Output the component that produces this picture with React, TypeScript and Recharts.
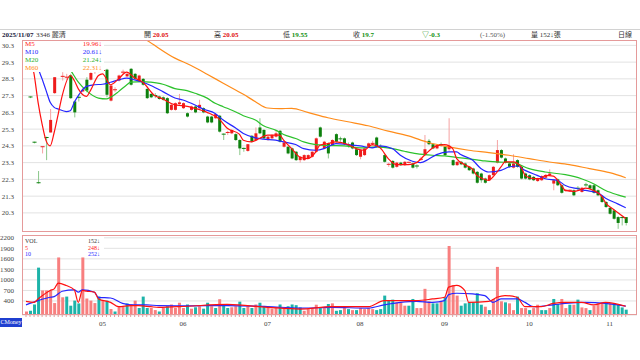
import React from "react";
import { ComposedChart, Bar, Line, XAxis, YAxis, CartesianGrid, Cell } from "recharts";

// 3346 麗清 daily candles, 2025/04/02 - 2025/11/07
const opens = [
  30.0, 27.22, 24.52, 22.1, 24.25, 24.8, 25.1, 27.45, 29.2, 28.4,
  28.35, 28.5, 26.95, 27.2, 27.55, 28.25, 28.25, 28.7, 28.8, 28.75,
  28.85, 27.0, 27.6, 28.2, 28.65, 28.45, 28.9, 28.6, 28.15, 28.3,
  27.7, 27.4, 27.3, 27.25, 27.2, 27.15, 26.45, 26.45, 26.8, 26.55,
  26.25, 26.45, 26.65, 26.55, 26.55, 26.05, 26.05, 25.95, 26.1, 25.0,
  25.05, 25.05, 25.0, 24.65, 24.15, 24.0, 24.9, 24.65, 25.4, 25.25,
  24.65, 24.75, 24.85, 25.2, 24.25, 24.25, 24.15, 23.95, 23.45, 23.45,
  23.55, 23.65, 23.95, 25.4, 24.15, 24.45, 24.35, 25.0, 24.72, 24.75,
  24.35, 24.5, 24.1, 23.65, 23.75, 24.25, 24.4, 24.8, 24.25, 23.75,
  23.15, 23.4, 23.05, 23.3, 23.15, 23.3, 23.25, 23.1, 23.45, 23.75,
  24.6, 24.4, 24.15, 24.37, 24.25, 24.1, 23.45, 23.15, 23.35, 23.25,
  23.05, 22.95, 22.75, 22.65, 22.35, 22.25, 22.55, 23.3, 24.05, 23.55,
  23.25, 23.0, 23.45, 23.05, 22.65, 22.55, 22.45, 22.2, 22.25, 22.4,
  22.55, 22.05, 22.3, 21.95, 21.6, 21.6, 21.65, 21.77, 21.55, 21.97,
  21.95, 21.95, 21.65, 21.3, 20.95, 20.6, 20.45, 20.05, 20.02, 20.05,
];
const highs = [
  30.3, 27.25, 24.55, 22.8, 24.25, 24.85, 26.5, 28.4, 31.2, 28.7,
  28.6, 28.6, 27.0, 27.4, 27.75, 28.4, 28.7, 28.95, 28.85, 28.9,
  28.9, 27.95, 27.8, 28.55, 28.85, 28.65, 28.95, 28.65, 28.55, 28.35,
  27.75, 27.45, 27.45, 27.3, 27.25, 27.2, 26.8, 26.9, 27.4, 26.9,
  26.3, 26.7, 26.7, 27.05, 26.6, 26.1, 26.1, 26.2, 26.15, 25.05,
  25.2, 25.3, 25.05, 24.7, 24.2, 24.4, 24.95, 25.4, 25.95, 25.3,
  24.9, 25.0, 25.25, 25.25, 24.55, 24.3, 24.2, 24.0, 23.7, 23.8,
  23.8, 24.0, 24.8, 25.45, 24.6, 24.5, 24.7, 25.05, 24.85, 24.8,
  24.5, 24.55, 24.15, 24.1, 24.2, 24.5, 24.6, 24.85, 24.4, 23.8,
  23.3, 23.45, 23.35, 23.35, 23.4, 23.35, 23.3, 23.2, 23.65, 24.95,
  24.7, 24.45, 24.4, 24.5, 24.3, 25.95, 23.5, 23.4, 23.4, 23.3,
  23.1, 23.0, 22.8, 22.7, 22.4, 22.6, 23.1, 24.65, 24.1, 23.6,
  23.3, 23.8, 23.5, 23.1, 22.7, 22.6, 22.5, 22.4, 22.55, 22.6,
  22.9, 22.3, 22.35, 22.0, 21.7, 21.7, 21.7, 21.9, 21.85, 22.1,
  22.0, 22.0, 21.7, 21.35, 21.0, 20.65, 20.5, 20.1, 20.1, 20.05,
];
const lows = [
  29.9, 27.15, 24.45, 22.05, 23.85, 23.45, 25.1, 27.4, 28.8, 28.2,
  28.25, 27.1, 26.0, 26.95, 27.5, 27.5, 28.2, 28.6, 28.7, 28.7,
  27.2, 26.95, 27.5, 28.15, 28.55, 28.4, 27.9, 28.25, 28.1, 27.9,
  27.1, 27.15, 27.15, 27.05, 27.0, 26.2, 26.4, 26.4, 26.7, 26.5,
  26.0, 26.4, 26.25, 26.5, 26.25, 25.65, 25.65, 25.9, 25.1, 24.65,
  24.95, 25.0, 24.6, 23.75, 23.95, 23.95, 24.5, 24.6, 25.0, 24.7,
  24.6, 24.7, 24.8, 24.5, 24.2, 23.8, 23.5, 23.4, 23.3, 23.4,
  23.5, 23.6, 23.9, 24.8, 24.1, 23.55, 24.3, 24.5, 24.55, 24.35,
  24.2, 24.1, 23.7, 23.5, 23.7, 24.2, 24.3, 24.2, 24.1, 23.3,
  23.05, 22.95, 23.0, 23.1, 23.1, 23.25, 22.95, 22.95, 23.4, 23.7,
  24.35, 24.1, 24.1, 24.25, 23.7, 24.0, 23.1, 23.1, 23.15, 22.95,
  22.8, 22.6, 22.05, 22.1, 22.05, 22.2, 22.5, 23.25, 23.55, 23.25,
  23.0, 22.95, 23.0, 22.3, 22.3, 22.25, 22.2, 22.15, 22.2, 22.35,
  22.5, 21.65, 21.9, 21.45, 21.55, 21.55, 21.3, 21.65, 21.5, 21.85,
  21.7, 21.45, 21.3, 20.9, 20.6, 20.2, 19.9, 19.35, 19.55, 19.55,
];
const closes = [
  30.2, 27.2, 24.5, 22.05, 24.25, 24.75, 25.85, 28.4, 28.9, 28.45,
  28.4, 27.15, 26.3, 27.15, 27.65, 27.6, 28.65, 28.75, 28.75, 28.8,
  27.35, 27.9, 27.65, 28.5, 28.7, 28.6, 27.95, 28.3, 28.5, 27.95,
  27.15, 27.2, 27.25, 27.1, 27.05, 26.25, 26.75, 26.85, 26.9, 26.85,
  26.05, 26.65, 26.3, 26.75, 26.3, 25.7, 25.7, 26.2, 25.15, 24.95,
  25.1, 25.25, 24.65, 24.15, 24.1, 24.4, 24.55, 25.05, 25.05, 24.75,
  24.85, 24.95, 25.05, 24.55, 24.5, 23.85, 23.55, 23.45, 23.65, 23.75,
  23.75, 23.95, 24.75, 24.85, 24.55, 23.85, 24.65, 24.55, 24.7, 24.4,
  24.3, 24.15, 23.75, 24.05, 24.15, 24.45, 24.45, 24.25, 24.2, 23.35,
  23.2, 23.0, 23.3, 23.15, 23.35, 23.32, 23.0, 23.05, 23.5, 24.1,
  24.4, 24.15, 24.35, 24.35, 23.75, 24.3, 23.15, 23.35, 23.2, 23.0,
  22.85, 22.65, 22.1, 22.25, 22.1, 22.55, 23.05, 24.05, 23.6, 23.3,
  23.05, 23.25, 23.05, 22.35, 22.35, 22.3, 22.25, 22.35, 22.5, 22.55,
  22.65, 22.25, 21.95, 21.5, 21.65, 21.65, 21.35, 21.75, 21.8, 21.95,
  21.75, 21.5, 21.35, 20.95, 20.65, 20.25, 19.95, 19.7, 20.0, 19.7,
];
const volumes = [
  100, 120, 300, 1350, 700, 700, 700, 340, 1640, 505,
  525, 265, 410, 330, 1640, 470, 410, 340, 525, 410,
  410, 170, 100, 240, 240, 330, 310, 410, 200, 525,
  200, 200, 140, 100, 200, 250, 300, 200, 350, 200,
  300, 180, 220, 250, 180, 350, 250, 200, 450, 300,
  200, 220, 250, 380, 200, 250, 200, 300, 350, 250,
  200, 180, 220, 300, 200, 250, 300, 280, 216, 120,
  168, 197, 293, 197, 197, 313, 332, 120, 139, 216,
  168, 139, 139, 197, 168, 197, 168, 139, 168, 553,
  409, 438, 361, 361, 265, 265, 457, 197, 197, 746,
  390, 332, 332, 390, 505, 1967, 842, 553, 265, 332,
  361, 361, 620, 293, 236, 139, 457, 1371, 390, 361,
  332, 139, 524, 197, 197, 139, 197, 293, 139, 139,
  197, 457, 313, 457, 197, 293, 293, 438, 216, 197,
  139, 265, 332, 361, 361, 332, 332, 293, 216, 152,
];
// r = up-day volume bar, g = down-day volume bar
const volSide =
  "rgggrrrrrr" + "ggggrrrrgr" + "grgrrgrrgg" + "grrgrgrrrr" +
  "grgrggrgrg" + "grrggrgrgg" + "rrrgrggggr" + "rrrgrgrggr" +
  "grgrrrrggg" + "ggrrrggrrr" + "rggrgrrrgg" + "ggggrgrrrg" +
  "rrgrrgrrgg" + "rggrrgrgrr" + "grrrgrgggg" + "ggggggrrrg";

const ma5Pts = [
  [0, 30.5], [1, 29.7], [2, 28.6], [3, 26.9], [4, 25.6], [5, 24.6], [6, 24.3], [7, 25.1], [8, 26.2], [9, 27.3],
  [11, 28.5], [12, 28.2], [13, 27.7], [15, 27.25], [16, 27.6], [18, 28.5], [19, 28.6], [21, 27.95], [23, 28.3], [25, 28.7],
  [27, 28.35], [29, 28.1], [32, 27.3], [34, 27.1], [37, 26.75], [39, 26.7], [42, 26.54], [45, 26.3], [48, 25.9], [50, 25.35],
  [53, 25.0], [54, 24.64], [56, 24.54], [58, 24.74], [60, 24.94], [63, 24.94], [64, 24.64], [66, 24.14], [68, 23.64], [70, 23.54],
  [72, 23.94], [73, 24.34], [75, 24.44], [77, 24.54], [80, 24.38], [82, 24.14], [84, 24.04], [86, 24.38], [88, 24.18], [90, 23.54],
  [92, 23.18], [95, 23.18], [97, 23.3], [99, 23.74], [101, 24.18], [102, 24.3], [104, 24.38], [106, 24.14], [107, 23.54], [109, 23.18],
  [111, 22.9], [112, 22.54], [113, 22.4], [115, 22.24], [116, 22.44], [118, 23.04], [119, 23.34], [121, 23.34], [123, 23.04], [124, 22.54],
  [126, 22.34], [128, 22.34], [129, 22.54], [131, 22.5], [133, 21.94], [134, 21.64], [136, 21.58], [138, 21.7], [139, 21.78], [141, 21.64],
  [143, 21.3], [144, 20.9], [146, 20.5], [148, 20.14], [149, 19.96],
];
const ma10Pts = [
  [2, 30.5], [3, 29.0], [4, 28.3], [5, 27.6], [6, 26.9], [7, 26.6], [8, 26.5], [10, 26.35], [11, 26.4], [12, 26.9],
  [13, 27.3], [15, 27.85], [17, 27.95], [19, 27.98], [21, 28.1], [23, 28.24], [25, 28.35], [27, 28.24], [29, 28.1], [31, 27.9],
  [34, 27.54], [37, 27.16], [39, 27.04], [42, 26.74], [44, 26.5], [47, 26.24], [49, 25.84], [52, 25.38], [54, 25.04], [57, 24.78],
  [59, 24.7], [62, 24.64], [64, 24.54], [67, 24.38], [69, 24.14], [72, 24.04], [74, 24.14], [75, 24.24], [77, 24.44], [80, 24.38],
  [83, 24.3], [86, 24.18], [88, 24.3], [91, 24.14], [93, 23.74], [96, 23.38], [98, 23.3], [100, 23.5], [102, 23.78], [105, 23.94],
  [107, 23.94], [108, 23.78], [111, 23.44], [113, 22.95], [115, 22.74], [118, 22.84], [120, 23.04], [122, 23.1], [124, 22.84], [127, 22.54],
  [129, 22.34], [132, 22.24], [134, 21.94], [137, 21.74], [139, 21.64], [142, 21.5], [144, 21.18], [147, 20.84], [149, 20.61],
];
const ma20Pts = [
  [5, 30.7], [8, 29.7], [11, 28.84], [13, 28.1], [15, 27.6], [18, 27.15], [20, 27.1], [21, 27.2], [23, 27.54], [25, 27.94],
  [26, 28.1], [29, 28.14], [31, 28.1], [34, 27.98], [37, 27.72], [40, 27.6], [42, 27.44], [45, 27.15], [47, 26.84], [49, 26.64],
  [52, 26.34], [54, 26.1], [57, 25.84], [59, 25.5], [62, 25.24], [64, 24.98], [67, 24.74], [69, 24.54], [72, 24.38], [75, 24.32],
  [79, 24.3], [83, 24.18], [87, 24.24], [91, 24.14], [94, 23.98], [97, 23.84], [101, 23.74], [104, 23.7], [108, 23.58], [112, 23.47],
  [114, 23.4], [117, 23.34], [121, 23.3], [125, 22.94], [129, 22.74], [134, 22.58], [138, 22.34], [141, 22.04], [144, 21.64], [147, 21.38],
  [149, 21.24],
];
const ma60Pts = [
  [25, 31.3], [30, 30.6], [37, 29.54], [41, 29.1], [45, 28.58], [49, 28.04], [54, 27.38], [57, 26.94], [60, 26.56], [63, 26.52],
  [66, 26.54], [70, 26.3], [75, 25.98], [80, 25.74], [85, 25.5], [90, 25.18], [95, 24.9], [100, 24.5], [105, 24.24], [110, 24.04],
  [115, 23.9], [120, 23.74], [125, 23.54], [130, 23.34], [135, 23.18], [140, 22.94], [145, 22.7], [149, 22.4],
];
const volMa5Pts = [
  [0, 390], [2, 360], [3, 457], [6, 700], [7, 745], [8, 910], [10, 840], [12, 716], [13, 360], [14, 700],
  [15, 680], [17, 650], [18, 457], [21, 360], [23, 236], [26, 265], [28, 265], [31, 236], [33, 217], [40, 250],
  [50, 300], [60, 220], [68, 168], [76, 236], [85, 236], [89, 410], [93, 410], [97, 410], [101, 457], [104, 505],
  [105, 793], [107, 842], [109, 700], [110, 360], [115, 390], [117, 505], [119, 553], [122, 505], [124, 236], [128, 236],
  [131, 330], [134, 360], [138, 360], [141, 290], [144, 360], [149, 248],
];
const volMa10Pts = [
  [0, 290], [3, 410], [6, 505], [7, 525], [9, 678], [12, 716], [13, 650], [14, 716], [17, 650], [18, 505],
  [21, 485], [24, 330], [26, 290], [30, 290], [33, 265], [40, 260], [50, 270], [60, 240], [68, 197], [76, 217],
  [85, 197], [89, 290], [93, 360], [97, 390], [101, 360], [104, 410], [105, 582], [107, 620], [111, 600], [114, 553],
  [116, 360], [118, 457], [122, 457], [124, 360], [126, 236], [131, 290], [134, 330], [139, 360], [144, 330], [149, 252],
];

const priceTicks = [20.3, 21.3, 22.3, 23.3, 24.3, 25.3, 26.3, 27.3, 28.3, 29.3, 30.3];
const volTicks = [400, 700, 1000, 1300, 1600, 1900, 2200];
const monthStarts = [19, 39, 60, 83, 104, 125, 145];
const monthLabels = ["05", "06", "07", "08", "09", "10", "11"];

const N = closes.length;
const sparse = (pts: number[][]) => {
  const arr: (number | null)[] = new Array(N).fill(null);
  pts.forEach(([i, v]) => (arr[i] = v));
  return arr;
};
const m5 = sparse(ma5Pts);
const m10 = sparse(ma10Pts);
const m20 = sparse(ma20Pts);
const m60 = sparse(ma60Pts);
const vm5 = sparse(volMa5Pts);
const vm10 = sparse(volMa10Pts);

const data = closes.map((c, i) => ({
  i,
  o: opens[i],
  h: highs[i],
  l: lows[i],
  c,
  range: [lows[i], highs[i]],
  v: volumes[i],
  m5: m5[i],
  m10: m10[i],
  m20: m20[i],
  m60: m60[i],
  vm5: vm5[i],
  vm10: vm10[i],
}));
const allIdx = data.map((d) => d.i);

const UP = "#ee1c1c";
const DOWN = "#0d800d";
const UP_WICK = "#f5a3a3";
const DOWN_WICK = "#8ac78a";
const BORDER = "#e59a9a";
const GRID = "#e2e2e2";
const NUM_FONT = '"Liberation Serif", "DejaVu Serif", serif';
const CJK_FONT = '"Liberation Serif", "Noto Sans CJK TC", serif';
const X_DOMAIN = [-0.994, 151.8];

const Candle = (props: any) => {
  const { x, y, width, height, payload } = props;
  if (x == null || !payload) return <g />;
  const { o, h, l, c } = payload;
  const up = c >= o;
  const top0 = Math.min(y, y + height);
  const span = Math.abs(height);
  const per = h - l > 0 ? span / (h - l) : 0;
  const toY = (v: number) => top0 + (h - v) * per;
  const bTop = toY(Math.max(o, c));
  const bBot = toY(Math.min(o, c));
  const cx = x + width / 2;
  return (
    <g>
      <line x1={cx} x2={cx} y1={top0} y2={top0 + span} stroke={up ? UP_WICK : DOWN_WICK} strokeWidth={1} />
      {bBot - bTop < 1 ? (
        <line x1={x - 0.5} x2={x + width + 0.5} y1={bTop} y2={bTop} stroke={up ? UP : DOWN} strokeWidth={1} />
      ) : (
        <rect x={x} y={bTop} width={width} height={bBot - bTop} fill={up ? UP : DOWN} />
      )}
    </g>
  );
};

const MonthTick = (p: any) => {
  const k = monthStarts.indexOf(p.payload.value);
  if (k < 0) return <g />;
  return (
    <text x={p.x} y={p.y + 7} textAnchor="middle" fontSize={7} fontFamily={NUM_FONT} fill="#444">
      {monthLabels[k]}
    </text>
  );
};

const txt = (extra: React.CSSProperties): React.CSSProperties => ({
  position: "absolute",
  fontSize: 7,
  lineHeight: "8px",
  fontFamily: CJK_FONT,
  whiteSpace: "nowrap",
  ...extra,
});
const small = (extra: React.CSSProperties): React.CSSProperties =>
  txt({ fontSize: 6, lineHeight: "6px", ...extra });

export default function App() {
  return (
    <div style={{ position: "absolute", left: 0, top: 0, width: 640, height: 360, background: "#fff", overflow: "hidden" }}>
      {/* header */}
      <div style={{ position: "absolute", left: 0, top: 29, width: 640, height: 1, background: "#d2d2d2" }} />
      <span style={txt({ left: 2, top: 31, fontWeight: "bold", color: "#1a1a40" })}>2025/11/07</span>
      <span style={txt({ left: 36, top: 31, color: "#333" })}>3346 麗清</span>
      <span style={txt({ left: 144, top: 31, color: "#333" })}>
        開 <b style={{ color: "#e01010" }}>20.05</b>
      </span>
      <span style={txt({ left: 214, top: 31, color: "#333" })}>
        高 <b style={{ color: "#e01010" }}>20.05</b>
      </span>
      <span style={txt({ left: 283, top: 31, color: "#333" })}>
        低 <b style={{ color: "#109010" }}>19.55</b>
      </span>
      <span style={txt({ left: 353, top: 31, color: "#333" })}>
        收 <b style={{ color: "#109010" }}>19.7</b>
      </span>
      <span style={txt({ left: 422, top: 31, color: "#109010", fontWeight: "bold" })}>▽-0.3</span>
      <span style={txt({ left: 480, top: 31, color: "#555" })}>(-1.50%)</span>
      <span style={txt({ left: 531, top: 31, color: "#333" })}>量 152↓張</span>
      <span style={txt({ left: 618, top: 31, color: "#333" })}>日線</span>

      {/* price panel */}
      <div style={{ position: "absolute", left: 0, top: 40 }}>
        <ComposedChart width={637} height={192} data={data} margin={{ top: 0, right: 0, bottom: 0, left: 0 }}>
          <CartesianGrid horizontal vertical={false} stroke={GRID} />
          <XAxis
            dataKey="i"
            type="number"
            domain={X_DOMAIN}
            allowDataOverflow
            ticks={monthStarts}
            height={0}
            mirror
            tick={false}
            axisLine={false}
            tickSize={3}
            tickLine={{ stroke: BORDER }}
          />
          <YAxis
            type="number"
            domain={[19.16, 30.62]}
            allowDataOverflow
            ticks={priceTicks}
            interval={0}
            width={22}
            axisLine={false}
            tickLine={false}
            tickMargin={2}
            tickFormatter={(v: number) => v.toFixed(1)}
            tick={{ fontSize: 7, fontFamily: NUM_FONT, fill: "#444" }}
          />
          <Bar dataKey="range" barSize={3} shape={Candle} isAnimationActive={false} />
          <Line dataKey="m60" stroke="#ff8c1a" strokeWidth={1.2} dot={false} connectNulls type="monotone" isAnimationActive={false} />
          <Line dataKey="m20" stroke="#2cc22c" strokeWidth={1.2} dot={false} connectNulls type="monotone" isAnimationActive={false} />
          <Line dataKey="m10" stroke="#2626ff" strokeWidth={1.2} dot={false} connectNulls type="monotone" isAnimationActive={false} />
          <Line dataKey="m5" stroke="#ff1010" strokeWidth={1.2} dot={false} connectNulls type="monotone" isAnimationActive={false} />
        </ComposedChart>
      </div>
      <div style={{ position: "absolute", left: 22, top: 40, width: 615, height: 192, border: `1px solid ${BORDER}`, boxSizing: "border-box" }} />
      <div style={{ position: "absolute", left: 23, top: 41, width: 81, height: 31, background: "#fff" }}>
        <span style={txt({ left: 2, top: -1, color: "#ff2020" })}>M5</span>
        <span style={txt({ left: 2, top: 7, color: "#2626ff" })}>M10</span>
        <span style={txt({ left: 2, top: 15, color: "#2cb02c" })}>M20</span>
        <span style={txt({ left: 2, top: 23, color: "#ff8c1a" })}>M60</span>
        <span style={txt({ right: 2, top: -1, color: "#ff2020" })}>19.96↓</span>
        <span style={txt({ right: 2, top: 7, color: "#2626ff" })}>20.61↓</span>
        <span style={txt({ right: 2, top: 15, color: "#2cb02c" })}>21.24↓</span>
        <span style={txt({ right: 2, top: 23, color: "#ff8c1a" })}>22.31↓</span>
      </div>

      {/* volume panel */}
      <div style={{ position: "absolute", left: 0, top: 235 }}>
        <ComposedChart width={637} height={94} data={data} margin={{ top: 0, right: 0, bottom: 0, left: 0 }}>
          <CartesianGrid horizontal vertical={false} stroke={GRID} />
          <XAxis
            dataKey="i"
            type="number"
            domain={X_DOMAIN}
            allowDataOverflow
            ticks={allIdx}
            interval={0}
            height={14}
            axisLine={false}
            tickSize={2}
            tickLine={{ stroke: BORDER }}
            tick={MonthTick}
          />
          <YAxis
            type="number"
            domain={[0, 2280]}
            allowDataOverflow
            ticks={volTicks}
            interval={0}
            width={22}
            axisLine={false}
            tickLine={false}
            tickMargin={2}
            tick={{ fontSize: 7, fontFamily: NUM_FONT, fill: "#444" }}
          />
          <Bar dataKey="v" barSize={3} isAnimationActive={false}>
            {data.map((d) => (
              <Cell key={d.i} fill={volSide[d.i] === "r" ? "#f87f7f" : "#1db3a9"} />
            ))}
          </Bar>
          <Line dataKey="vm10" stroke="#2626ff" strokeWidth={1.2} dot={false} connectNulls type="monotone" isAnimationActive={false} />
          <Line dataKey="vm5" stroke="#ff1010" strokeWidth={1.2} dot={false} connectNulls type="monotone" isAnimationActive={false} />
        </ComposedChart>
      </div>
      <div style={{ position: "absolute", left: 22, top: 235, width: 615, height: 80, border: `1px solid ${BORDER}`, boxSizing: "border-box" }} />
      <div style={{ position: "absolute", left: 23, top: 236, width: 81, height: 21, background: "#fff" }}>
        <span style={small({ left: 2, top: 2, color: "#333" })}>VOL</span>
        <span style={small({ left: 2, top: 8.5, color: "#ff2020" })}>5</span>
        <span style={small({ left: 2, top: 15, color: "#2626ff" })}>10</span>
        <span style={small({ right: 4, top: 2, color: "#333" })}>152↓</span>
        <span style={small({ right: 4, top: 8.5, color: "#ff2020" })}>248↓</span>
        <span style={small({ right: 4, top: 15, color: "#2626ff" })}>252↓</span>
      </div>
      <div style={{ position: "absolute", left: 0, top: 318, width: 22, height: 9, background: "#1f3fd0", color: "#fff", fontSize: 6, lineHeight: "9px", fontFamily: NUM_FONT, textAlign: "center" }}>
        CMoney
      </div>
    </div>
  );
}
